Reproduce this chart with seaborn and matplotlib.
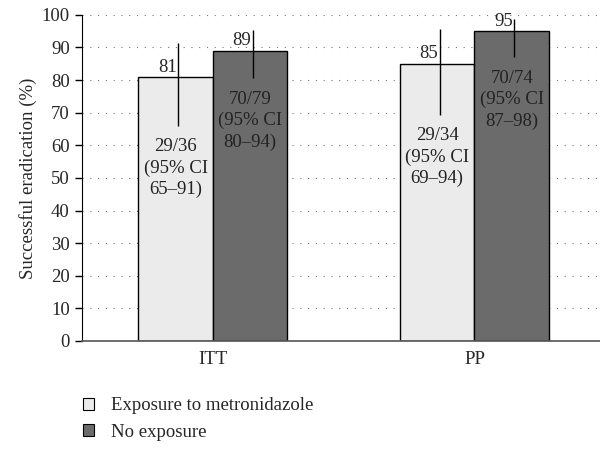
import pandas as pd
import matplotlib.pyplot as plt
import seaborn as sns
from matplotlib.patches import Patch

# dados
analises = ['ITT', 'PP']
grupos = ['Exposure to metronidazole', 'No exposure']
exposto = [81, 85]
nao_exposto = [89, 95]
ic_baixo_exposto = [66, 69.3]
ic_alto_exposto = [91.5, 95.7]
ic_baixo_nao = [80.5, 87]
ic_alto_nao = [95.5, 98.8]
textos_exposto = ['29/36\n(95% CI\n65–91)', '29/34\n(95% CI\n69–94)']
textos_nao = ['70/79\n(95% CI\n80–94)', '70/74\n(95% CI\n87–98)']
cores = ['#ebebeb', '#6b6b6b']

df = pd.DataFrame({
    'Analise': analises * 2,
    'Grupo': [grupos[0]] * 2 + [grupos[1]] * 2,
    'Valor': exposto + nao_exposto,
})

sns.set_style('white')
plt.rcParams['font.family'] = ['Liberation Serif', 'DejaVu Serif']
fs = 13.5

fig = plt.figure(figsize=(6, 4.51), dpi=100)
ax = fig.add_axes([0.137, 0.244, 0.863, 0.723])

sns.barplot(data=df, x='Analise', y='Valor', hue='Grupo', order=analises,
            hue_order=grupos, palette=cores, width=0.57, errorbar=None,
            edgecolor='black', linewidth=1.0, legend=False, ax=ax, zorder=2)

ax.set_ylim(0, 100)
ax.set_xlim(-0.5, 1.48)
ax.set_yticks(range(0, 101, 10))
ax.tick_params(axis='y', labelsize=fs, length=5, width=1, color='black', left=True, pad=4)
ax.tick_params(axis='x', labelsize=fs, length=0, pad=7)
ax.set_xlabel('')
ax.set_ylabel('Successful eradication (%)', fontsize=fs, labelpad=3)
ax.yaxis.grid(True, linestyle=(0, (1, 6)), color='#777777', linewidth=0.8, zorder=0)
ax.set_axisbelow(True)

for lado in ['top', 'right']:
    ax.spines[lado].set_visible(False)
ax.spines['left'].set_color('black')
ax.spines['bottom'].set_color('#555555')
ax.spines['bottom'].set_linewidth(1.2)

barras = ax.patches
valores = exposto + nao_exposto
baixos = ic_baixo_exposto + ic_baixo_nao
altos = ic_alto_exposto + ic_alto_nao
textos = textos_exposto + textos_nao
for barra, v, lo, hi, t in zip(barras, valores, baixos, altos, textos):
    xc = barra.get_x() + barra.get_width() / 2 + 0.01
    ax.vlines(xc, lo, hi, color='black', linewidth=1.0, zorder=3)
    ax.text(xc - 0.006, v + 0.4, str(v), ha='right', va='bottom', fontsize=fs, zorder=4)
    ax.text(barra.get_x() + barra.get_width() / 2, lo - 3.8, t, ha='center', va='top',
            fontsize=fs, linespacing=1.32, color='#222222', zorder=4)

handles = [Patch(facecolor=c, edgecolor='black', linewidth=0.8) for c in cores]
fig.legend(handles, grupos, loc='upper left', bbox_to_anchor=(0.125, 0.136),
           frameon=False, fontsize=fs, handlelength=0.6, handleheight=0.6,
           handletextpad=0.9, labelspacing=0.5, borderaxespad=0)

plt.savefig('out.png', dpi=100)
